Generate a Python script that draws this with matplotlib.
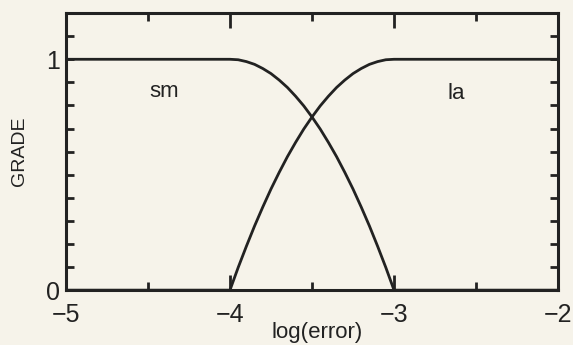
import matplotlib.pyplot as plt
from matplotlib.ticker import FixedLocator

plt.rcParams['font.family'] = ['Liberation Sans', 'DejaVu Sans']

# membership grades read along log(error)
log_err = [-5.0, -4.0, -3.95, -3.9, -3.85, -3.8, -3.75, -3.7, -3.65, -3.6, -3.55,
           -3.5, -3.45, -3.4, -3.35, -3.3, -3.25, -3.2, -3.15, -3.1, -3.05, -3.0, -2.0]
grade_sm = [1.0, 1.0, 0.998, 0.99, 0.978, 0.96, 0.938, 0.91, 0.878, 0.84, 0.798,
            0.75, 0.698, 0.64, 0.578, 0.51, 0.438, 0.36, 0.278, 0.19, 0.098, 0.0, 0.0]
grade_la = [0.0, 0.0, 0.098, 0.19, 0.278, 0.36, 0.438, 0.51, 0.578, 0.64, 0.698,
            0.75, 0.798, 0.84, 0.878, 0.91, 0.938, 0.96, 0.978, 0.99, 0.998, 1.0, 1.0]

ink = '#222222'
paper = '#f6f3ea'

fig = plt.figure(figsize=(5.73, 3.45), dpi=100, facecolor=paper)
ax = fig.add_axes([0.115, 0.159, 0.859, 0.803], facecolor=paper)

ax.plot(log_err, grade_sm, color=ink, lw=2.0, solid_capstyle='butt')
ax.plot(log_err, grade_la, color=ink, lw=2.0, solid_capstyle='butt')

ax.text(-4.4, 0.86, 'sm', fontsize=16, color=ink, ha='center', va='center')
ax.text(-2.62, 0.85, 'la', fontsize=16, color=ink, ha='center', va='center')

ax.set_xlim(-5, -2)
ax.set_ylim(0, 1.2)

ax.xaxis.set_major_locator(FixedLocator([-5, -4, -3, -2]))
ax.xaxis.set_minor_locator(FixedLocator([-4.5, -3.5, -2.5]))
ax.set_xticklabels(['\u22125', '\u22124', '\u22123', '\u22122'])
ax.yaxis.set_major_locator(FixedLocator([0, 1]))
ax.yaxis.set_minor_locator(FixedLocator([0.1, 0.2, 0.3, 0.4, 0.5, 0.6, 0.7, 0.8, 0.9, 1.1]))
ax.set_yticklabels(['0', '1'])

ax.tick_params(axis='both', which='both', direction='in', top=True, right=True,
               color=ink, labelcolor=ink, width=2)
ax.tick_params(axis='x', which='major', length=11, labelsize=18, pad=9)
ax.tick_params(axis='x', which='minor', length=6)
ax.tick_params(axis='y', which='major', length=6, labelsize=18, pad=4)
ax.tick_params(axis='y', which='minor', length=6)

for side in ax.spines.values():
    side.set_linewidth(2.2)
    side.set_color(ink)

ax.set_xlabel('log(error)', fontsize=16, color=ink)
ax.set_ylabel('GRADE', fontsize=14, color=ink)
ax.xaxis.set_label_coords(0.51, -0.154)
ax.yaxis.set_label_coords(-0.094, 0.5)
ax.xaxis.label.set_va('center')
ax.yaxis.label.set_va('center')

fig.savefig('out.png', dpi=100, facecolor=paper)
